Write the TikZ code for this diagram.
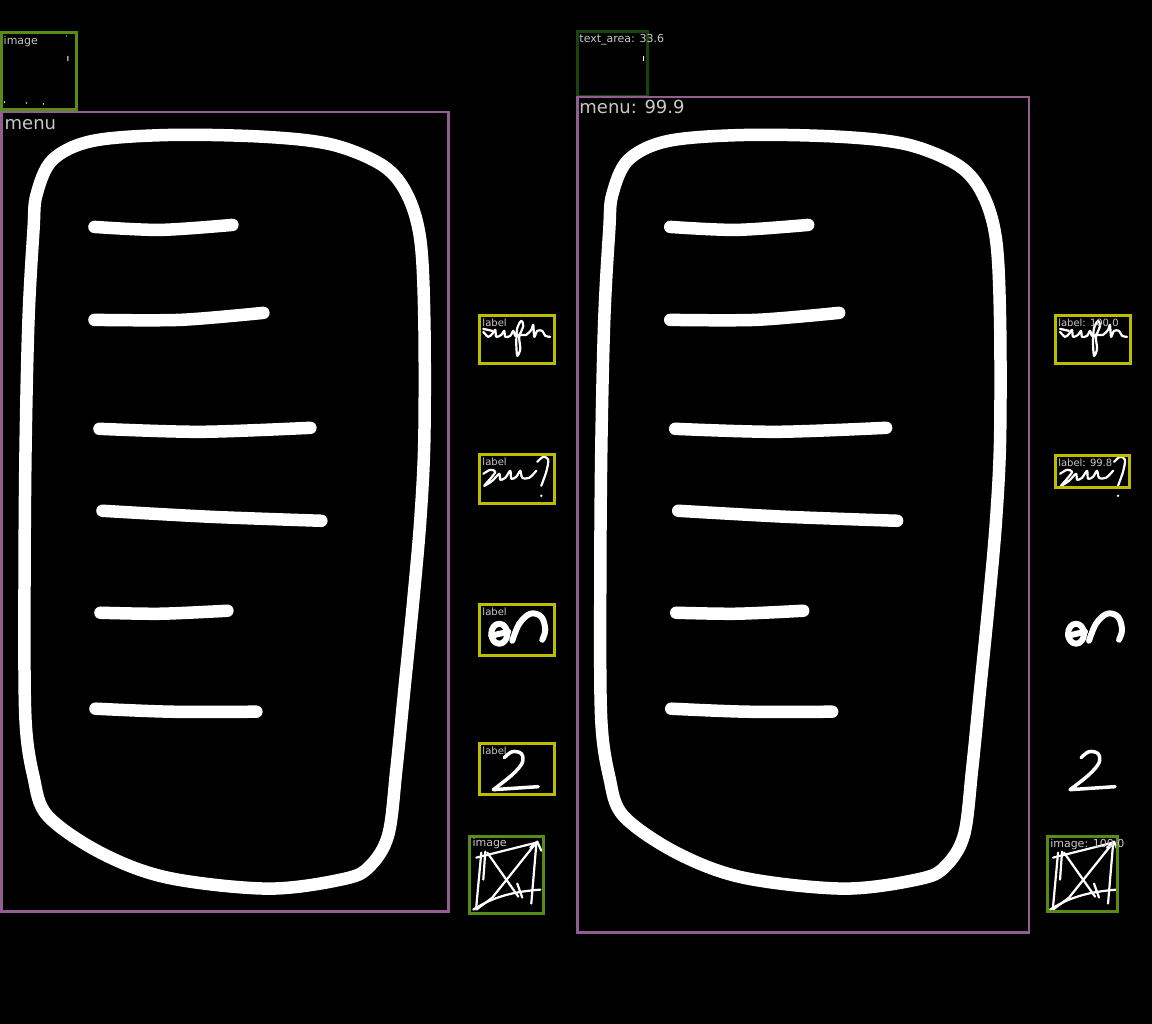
\documentclass[tikz,border=0pt]{standalone}
\usepackage{fontspec}
\setmainfont{DejaVu Sans}
\usetikzlibrary{positioning}
\definecolor{menuline}{RGB}{146,94,146}
\definecolor{imageline}{RGB}{88,140,22}
\definecolor{textline}{RGB}{28,66,16}
\definecolor{labelline}{RGB}{188,188,0}
\definecolor{tagtext}{RGB}{200,200,200}

\tikzset{
  ink/.style={white,line width=12.5,line cap=round,line join=round},
  pen/.style={white,line width=2.2,line cap=round,line join=round},
  marker/.style={white,line width=6,line cap=round,line join=round},
  menubox/.style={draw=menuline,line width=2.5},
  imagebox/.style={draw=imageline,line width=3},
  textbox/.style={draw=textline,line width=3},
  labelbox/.style={draw=labelline,line width=3},
  tag/.style={anchor=base west,inner sep=0pt,text=tagtext,font=\fontsize{10}{11}\selectfont},
  bigtag/.style={tag,font=\fontsize{11}{12}\selectfont},
  menutag/.style={tag,font=\fontsize{18}{20}\selectfont},
}

% hand-drawn phone with its six menu lines
\newcommand{\phonesketch}{%
  \draw[ink] plot[smooth cycle,tension=0.55] coordinates {
    (36,195) (52,160) (92,141) (170,135) (267,137) (333,145) (383,166)
    (407,195) (420,240) (424,320) (424,440) (420,520) (413,600)
    (404,690) (396,770) (388,835) (370,866) (345,879) (268,889)
    (167,878) (100,853) (47,816) (33,777) (25,720) (24,600)
    (25,453) (28,320) (33,230)};
  \draw[ink] plot[smooth,tension=0.5] coordinates {(94,227) (160,230) (232,225)};
  \draw[ink] plot[smooth,tension=0.5] coordinates {(94,320) (180,320) (263,313)};
  \draw[ink] plot[smooth,tension=0.5] coordinates {(99,429) (200,432) (310,428)};
  \draw[ink] plot[smooth,tension=0.5] coordinates {(102,511) (210,517) (321,521)};
  \draw[ink] plot[smooth,tension=0.5] coordinates {(100,613) (160,614) (227,611)};
  \draw[ink] plot[smooth,tension=0.5] coordinates {(95,709) (170,712) (256,712)};
}
% handwritten words
\newcommand{\wordbuy}{%
  \draw[pen] plot[smooth,tension=0.5] coordinates {(483,332) (488,337) (492,334)
    (495,330) (496,337) (501,335) (504,331) (505,337) (510,336) (513,331)
    (515,336) (519,335) (523,326) (521,321) (517,328) (516,343) (517,356)
    (520,349) (519,336) (526,335) (531,330) (533,325) (534,337) (537,331)
    (542,331) (545,336) (550,337)};
  \draw[pen] (483,329) -- (492,331);
}
\newcommand{\wordsum}{%
  \draw[pen] plot[smooth,tension=0.5] coordinates {(483,474) (490,470) (495,472)
    (490,479) (484,486) (492,481) (499,474) (500,480) (505,478) (510,471)
    (511,479) (516,477) (520,471) (522,478) (529,478) (536,471)};
  \draw[pen] plot[smooth,tension=0.5] coordinates {(537,462) (543,457) (548,460)
    (546,472) (541,486)};
  \fill[white] (541,496) circle (1.3);
}
\newcommand{\wordon}{%
  \draw[marker] (499,634) ellipse (8 and 10);
  \draw[marker] (491,636) -- (508,632);
  \draw[marker] plot[smooth,tension=0.6] coordinates {(512,641) (519,624)
    (530,614) (541,617) (545,630) (542,640)};
}
\newcommand{\wordtwo}{%
  \draw[white,line width=3.5,line cap=round,line join=round]
    plot[smooth,tension=0.6] coordinates {(504,758) (512,752) (521,754)
    (522,763) (512,775) (493,790)} -- (538,787);
}
\newcommand{\sketchimage}{%
  \draw[pen] (481,853) -- (476,907);
  \draw[pen] (485,852) -- (483,880);
  \draw[pen] (476,858) -- (536,843);
  \draw[pen] (536,843) -- (492,898) -- (476,910);
  \draw[pen] (487,853) -- (518,897);
  \draw[pen] (536,845) -- (531,904);
  \draw[pen] (473,910) .. controls (495,896) and (515,892) .. (540,890);
  \draw[pen] (530,848) -- (537,842) -- (541,851);
  \draw[pen] (517,884) -- (522,898);
}

\begin{document}
\begin{tikzpicture}[x=1pt,y=-1pt]
  \fill[black] (0,0) rectangle (1152,1024);

  % Annotated sketch
  \draw[imagebox] (1,33) rectangle (76,110);
  \fill[white] (67,56) rectangle (68,61) (4,102) circle (0.8)
    (26,103) circle (0.8) (43,104) circle (0.8) (66,36) circle (0.6);
  \node[bigtag] (imgtagA) at (3,44.5) {image};
  \draw[menubox] (1,112) rectangle (448,912);
  \node[menutag] (menutagA) at (4,129.5) {menu};
  \phonesketch
  \wordbuy \wordsum \wordon \wordtwo \sketchimage
  \draw[labelbox] (479,316) rectangle (554,364);
  \draw[labelbox] (479,455) rectangle (554,504);
  \draw[labelbox] (479,605) rectangle (554,656);
  \draw[labelbox] (479,744) rectangle (554,795);
  \draw[imagebox] (469,837) rectangle (543,914);
  \node[tag] (lbltagA) at (482,327) {label};
  \node[tag] (lbltagB) at (482,465.5) {label};
  \node[tag] (lbltagC) at (482,616) {label};
  \node[tag] (lbltagD) at (482,755) {label};
  \node[bigtag] (imgtagB) at (472,847) {image};

  % Predicted sketch
  \begin{scope}[shift={(576,0)}]
    \phonesketch
  \end{scope}
  \begin{scope}[shift={(577,0)}]
    \wordbuy \wordsum \wordon \wordtwo \sketchimage
  \end{scope}
  \draw[textbox] (577,32) rectangle (647,97);
  \fill[white] (643,56) rectangle (644,61);
  \node[bigtag] (txttagP) at (579,42.5) {text\_area: 33.6};
  \draw[menubox] (577,97) rectangle (1029,933);
  \node[menutag] (menutagP) at (579,114) {menu: 99.9};
  \draw[labelbox] (1055,316) rectangle (1130,364);
  \draw[labelbox] (1055,456) rectangle (1129,488);
  \draw[imagebox] (1047,837) rectangle (1117,912);
  \node[tag] (lbltagP) at (1058,327) {label: 100.0};
  \node[tag] (lbltagQ) at (1058,467) {label: 99.8};
  \node[bigtag] (imgtagP) at (1050,848) {image: 100.0};
\end{tikzpicture}
\end{document}
